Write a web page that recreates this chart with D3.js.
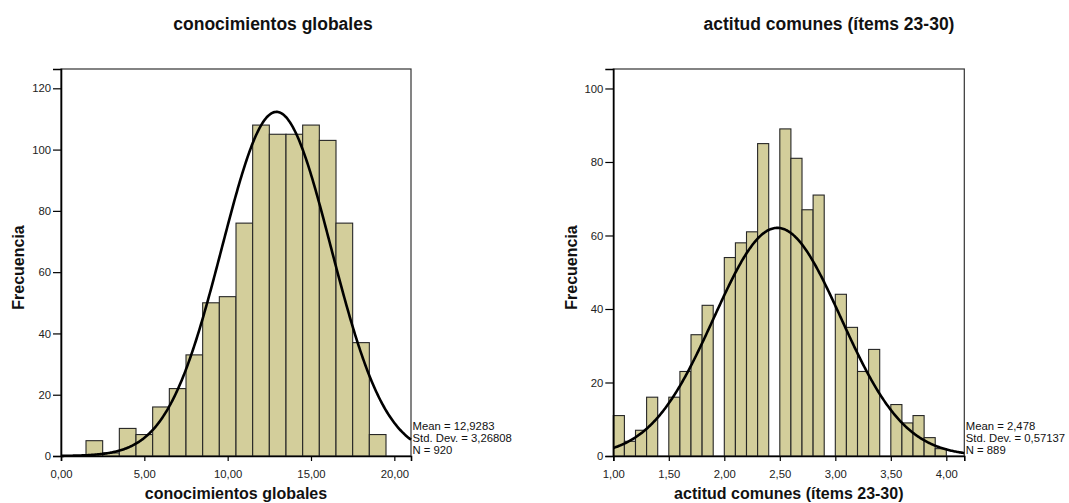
<!DOCTYPE html>
<html>
<head>
<meta charset="utf-8">
<script src="https://cdn.jsdelivr.net/npm/d3@7"></script>
<style>
  html, body { margin: 0; padding: 0; background: #fff; }
  svg { display: block; font-family: Arial, "Liberation Sans", sans-serif; }
</style>
</head>
<body>
<svg id="chart" width="1069" height="503"></svg>
<script>
// Histogram 1: conocimientos globales (bins of width 1)
const globalBinStart = [1.5, 2.5, 3.5, 4.5, 5.5, 6.5, 7.5, 8.5, 9.5, 10.5, 11.5, 12.5, 13.5, 14.5, 15.5, 16.5, 17.5, 18.5];
const globalCounts   = [5, 1, 9, 7, 16, 22, 33, 50, 52, 76, 108, 105, 105, 108, 103, 76, 37, 7];
const globalTicksX   = [0, 5, 10, 15, 20];
const globalTicksY   = [0, 20, 40, 60, 80, 100, 120];
const globalStats    = { mean: 12.9283, sd: 3.26808, n: 920 };

// Histogram 2: actitud comunes (bins of width 0.1)
const attBinStart = [1.0, 1.1, 1.2, 1.3, 1.4, 1.5, 1.6, 1.7, 1.8, 1.9,
                     2.0, 2.1, 2.2, 2.3, 2.4, 2.5, 2.6, 2.7, 2.8, 2.9,
                     3.0, 3.1, 3.2, 3.3, 3.4, 3.5, 3.6, 3.7, 3.8, 3.9];
const attCounts   = [11, 4, 7, 16, 0, 16, 23, 33, 41, 0,
                     54, 58, 61, 85, 0, 89, 81, 67, 71, 0,
                     44, 35, 23, 29, 0, 14, 9, 11, 5, 2];
const attTicksX   = [1.0, 1.5, 2.0, 2.5, 3.0, 3.5, 4.0];
const attTicksY   = [0, 20, 40, 60, 80, 100];
const attStats    = { mean: 2.478, sd: 0.57137, n: 889 };

const esLocale = d3.formatLocale({ decimal: ",", thousands: ".", grouping: [3], currency: ["", " €"] });
const fmt2 = esLocale.format(".2f");

const svg = d3.select("#chart");

function histogram(opts) {
  const { left, right, top, bottom, xDomain, yDomain, binStart, counts, binWidth,
          ticksX, ticksY, stats, statsText, title, titleX, xTitle, yTitleX } = opts;

  const g = svg.append("g");
  const x = d3.scaleLinear().domain(xDomain).range([left, right]);
  const y = d3.scaleLinear().domain(yDomain).range([bottom, top]);

  // plot frame
  g.append("rect")
    .attr("x", left).attr("y", top)
    .attr("width", right - left).attr("height", bottom - top)
    .attr("fill", "#fff").attr("stroke", "#333").attr("stroke-width", 1.2);

  // bars
  const bins = binStart.map((b, i) => ({ x0: b, x1: b + binWidth, c: counts[i] })).filter(d => d.c > 0);
  g.append("g").selectAll("rect").data(bins).join("rect")
    .attr("x", d => x(d.x0))
    .attr("y", d => y(d.c))
    .attr("width", d => x(d.x1) - x(d.x0))
    .attr("height", d => y(0) - y(d.c))
    .attr("fill", "#d3ce9b")
    .attr("stroke", "#262626")
    .attr("stroke-width", 1.1);

  // fitted normal curve
  const scaleN = stats.n * binWidth;
  const pts = d3.range(0, 401).map(i => {
    const xv = xDomain[0] + (xDomain[1] - xDomain[0]) * i / 400;
    const z = (xv - stats.mean) / stats.sd;
    return [xv, scaleN * Math.exp(-0.5 * z * z) / (stats.sd * Math.sqrt(2 * Math.PI))];
  });
  g.append("path")
    .datum(pts)
    .attr("fill", "none")
    .attr("stroke", "#000")
    .attr("stroke-width", 2.6)
    .attr("d", d3.line().x(d => x(d[0])).y(d => y(d[1])));

  // axes
  const xAxis = g.append("g")
    .attr("transform", `translate(0,${bottom})`)
    .call(d3.axisBottom(x).tickValues(ticksX).tickFormat(fmt2).tickSizeOuter(0).tickSize(5).tickPadding(9));
  const yAxis = g.append("g")
    .attr("transform", `translate(${left},0)`)
    .call(d3.axisLeft(y).tickValues(ticksY).tickFormat(d3.format("d")).tickSizeOuter(0).tickSize(8).tickPadding(2));
  [xAxis, yAxis].forEach(a => {
    a.select(".domain").attr("stroke", "#000").attr("stroke-width", 1.6);
    a.selectAll(".tick line").attr("stroke", "#000").attr("stroke-width", 1.2);
    a.selectAll(".tick text").attr("fill", "#222").attr("font-size", 11.3)
      .attr("font-family", "Arial, 'Liberation Sans', sans-serif");
  });

  // statistics box text
  const st = g.append("text")
    .attr("font-size", 11.3).attr("fill", "#111");
  statsText.forEach((t, i) => {
    st.append("tspan").attr("x", right + 1.5).attr("y", 430 + i * 12).text(t);
  });

  // titles
  g.append("text")
    .attr("x", titleX).attr("y", 30)
    .attr("text-anchor", "middle")
    .attr("font-size", 17.5).attr("font-weight", "bold").attr("fill", "#111")
    .text(title);
  g.append("text")
    .attr("x", (left + right) / 2).attr("y", 499)
    .attr("text-anchor", "middle")
    .attr("font-size", 16).attr("font-weight", "bold").attr("fill", "#111")
    .text(xTitle);
  g.append("text")
    .attr("transform", `translate(${yTitleX},${(top + bottom) / 2 + 5}) rotate(-90)`)
    .attr("text-anchor", "middle")
    .attr("font-size", 16).attr("font-weight", "bold").attr("fill", "#111")
    .text("Frecuencia");
}

histogram({
  left: 61, right: 411, top: 69, bottom: 456,
  xDomain: [0, 21], yDomain: [0, 126.3],
  binStart: globalBinStart, counts: globalCounts, binWidth: 1,
  ticksX: globalTicksX, ticksY: globalTicksY, stats: globalStats,
  statsText: ["Mean = 12,9283", "Std. Dev. = 3,26808", "N = 920"],
  title: "conocimientos globales", titleX: 273,
  xTitle: "conocimientos globales", yTitleX: 24
});

histogram({
  left: 613.3, right: 964.3, top: 69, bottom: 456,
  xDomain: [1, 4.162], yDomain: [0, 105.3],
  binStart: attBinStart, counts: attCounts, binWidth: 0.1,
  ticksX: attTicksX, ticksY: attTicksY, stats: attStats,
  statsText: ["Mean = 2,478", "Std. Dev. = 0,57137", "N = 889"],
  title: "actitud comunes (ítems 23-30)", titleX: 829,
  xTitle: "actitud comunes (ítems 23-30)", yTitleX: 577
});
</script>
</body>
</html>
